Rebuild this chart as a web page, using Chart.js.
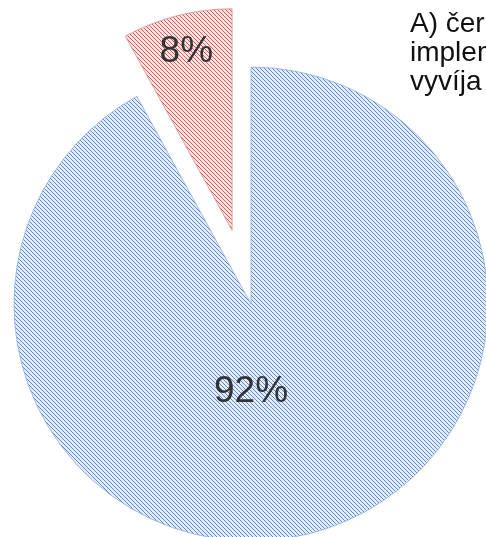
<!DOCTYPE html>
<html>
<head>
<meta charset="utf-8">
<script src="https://cdn.jsdelivr.net/npm/chart.js@4.4.1/dist/chart.umd.min.js"></script>
<style>
html,body{margin:0;padding:0;background:#fff;overflow:hidden;}
#wrap{position:relative;width:486px;height:537px;}
</style>
</head>
<body>
<div id="wrap"><canvas id="c" width="486" height="537"></canvas></div>
<script>
// ---- data ----
const categories = ["Áno", "Nie"];
const values = [92, 8];
const valueLabels = ["92%", "8%"];
const titleLines = ["A) čerpanie", "implementácia", "vyvíja sa"];

// ---- styles ----
function hatch(light, dark) {
  const s = 4;
  const p = document.createElement('canvas');
  p.width = s; p.height = s;
  const g = p.getContext('2d');
  g.fillStyle = light; g.fillRect(0, 0, s, s);
  g.strokeStyle = dark; g.lineWidth = 1.0;
  g.beginPath();
  g.moveTo(-1, -1); g.lineTo(s + 1, s + 1);
  g.moveTo(-1, s - 1); g.lineTo(1, s + 1);
  g.moveTo(s - 1, -1); g.lineTo(s + 1, 1);
  g.stroke();
  return g.createPattern(p, 'repeat');
}
const ctx = document.getElementById('c').getContext('2d');
const fills = [hatch('#e3ebf7', '#5b8bd0'), hatch('#f8e2e2', '#d45a5a')];
const borders = ['rgba(140,175,225,0.8)', 'rgba(225,140,140,0.8)'];

const explodePlugin = {
  id: 'explode',
  afterDatasetsUpdate(chart, args, opts) {
    const meta = chart.getDatasetMeta(0);
    meta.data.forEach((arc, i) => {
      const d = opts.distance[i] || 0;
      const mid = (arc.startAngle + arc.endAngle) / 2;
      arc.x += Math.cos(mid) * d;
      arc.y += Math.sin(mid) * d;
      arc.outerRadius *= opts.radiusScale[i];
    });
  }
};

const labelPlugin = {
  id: 'sliceLabels',
  afterDatasetsDraw(chart, args, opts) {
    const c = chart.ctx;
    const meta = chart.getDatasetMeta(0);
    c.save();
    c.font = opts.font;
    c.fillStyle = opts.color;
    c.textAlign = 'center';
    c.textBaseline = 'middle';
    meta.data.forEach((arc, i) => {
      const mid = (arc.startAngle + arc.endAngle) / 2;
      const ang = opts.angle[i] == null ? mid : opts.angle[i] * Math.PI / 180;
      const r = arc.outerRadius * opts.frac[i];
      c.fillText(valueLabels[i], arc.x + Math.cos(ang) * r, arc.y + Math.sin(ang) * r);
    });
    c.restore();
  }
};

const titlePlugin = {
  id: 'sideTitle',
  afterDraw(chart, args, opts) {
    const c = chart.ctx;
    c.save();
    c.font = opts.font;
    c.fillStyle = opts.color;
    c.textAlign = 'left';
    c.textBaseline = 'alphabetic';
    titleLines.forEach((t, i) => c.fillText(t, opts.x, opts.y + i * opts.lineHeight));
    c.restore();
  }
};

new Chart(ctx, {
  type: 'pie',
  data: {
    labels: categories,
    datasets: [{
      data: values,
      backgroundColor: fills,
      borderColor: borders,
      borderWidth: 1
    }]
  },
  options: {
    responsive: false,
    animation: false,
    events: [],
    radius: 237,
    layout: { padding: { left: 16, top: 71, right: 0, bottom: 0 } },
    plugins: {
      legend: { display: false },
      tooltip: { enabled: false },
      explode: { distance: [0, 76], radiusScale: [1, 0.935] },
      sliceLabels: { font: '37px "Liberation Sans", Arial, sans-serif', color: '#333333', frac: [0.37, 0.83], angle: [90, null] },
      sideTitle: { font: '28px "Liberation Sans", Arial, sans-serif', color: '#111111', x: 410, y: 32, lineHeight: 29 }
    }
  },
  plugins: [explodePlugin, labelPlugin, titlePlugin]
});
</script>
</body>
</html>
